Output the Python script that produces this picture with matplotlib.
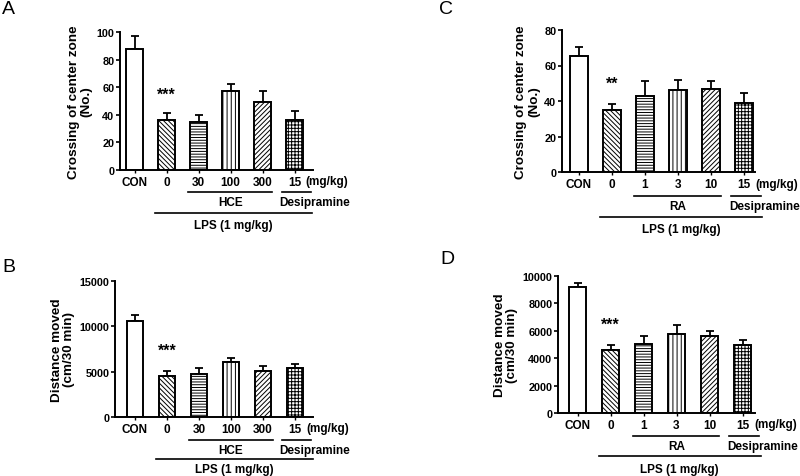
import numpy as np
import matplotlib
matplotlib.use("Agg")
import matplotlib.pyplot as plt
from matplotlib.transforms import blended_transform_factory

plt.rcParams['font.family'] = ['Liberation Sans', 'DejaVu Sans']
plt.rcParams['hatch.linewidth'] = 0.7

# data
labels_hce = ["CON", "0", "30", "100", "300", "15"]
labels_ra = ["CON", "0", "1", "3", "10", "15"]

cross_hce = [88, 36.5, 35, 57.5, 49, 36]
cross_hce_sem = [9, 4.5, 5, 5, 8, 7]
dist_hce = [10550, 4550, 4750, 6050, 5100, 5350]
dist_hce_sem = [650, 500, 600, 500, 480, 480]

cross_ra = [65.5, 35, 43, 46, 46.5, 39]
cross_ra_sem = [5, 3.5, 8.5, 6, 4.5, 5.5]
dist_ra = [9200, 4600, 5050, 5800, 5650, 4950]
dist_ra_sem = [300, 400, 550, 600, 300, 400]

hatches = ["", "\\\\\\\\\\\\\\", "------", "||||", "///////", "+++++"]

W, H = 800, 477
fig = plt.figure(figsize=(8, 4.77), dpi=100)
FS = 8.5


def panel(letter, letter_xy, box, x0, step, vals, sem, xlabels, ymax, ystep,
          ylabel, drug, star, star_y, dys):
    left, right, top, bottom = box
    ax = fig.add_axes([left / W, 1 - bottom / H, (right - left) / W, (bottom - top) / H])
    x = np.arange(len(vals))
    ax.bar(x, vals, width=0.52, color="white", edgecolor="black", linewidth=1.4,
           hatch=hatches, zorder=2)
    ax.errorbar(x, vals, yerr=[np.zeros(len(vals)), sem], fmt="none", ecolor="black",
                elinewidth=1.3, capsize=3.2, capthick=1.3, zorder=1, clip_on=False)
    ax.set_xlim((left - x0) / step, (right - x0) / step)
    ax.set_ylim(0, ymax)
    ax.set_yticks(np.arange(0, ymax + 1, ystep))
    ax.spines['top'].set_visible(False)
    ax.spines['right'].set_visible(False)
    for s in ['left', 'bottom']:
        ax.spines[s].set_linewidth(1.4)
    ax.tick_params(axis='y', length=3, width=1.2, pad=1, labelsize=7.8)
    ax.tick_params(axis='x', length=2, width=1.0, pad=2, labelsize=FS)
    ax.set_xticks(x)
    ax.set_xticklabels(xlabels, fontweight='bold')
    for t in ax.get_yticklabels():
        t.set_fontweight('bold')
    ax.set_ylabel(ylabel, fontsize=9.7, fontweight='bold', linespacing=1.1, labelpad=3)
    ax.text(1, star_y, star, ha='center', va='center', fontsize=11.5, fontweight='bold')

    h = bottom - top
    tr = blended_transform_factory(ax.transData, ax.transAxes)
    d_tick, d_line1, d_txt1, d_line2, d_txt2 = dys
    ax.text(5.35, -d_tick / h, "(mg/kg)", transform=tr, ha='left', va='center',
            fontsize=FS, fontweight='bold')
    ax.plot([1.68, 4.3], [-d_line1 / h] * 2, transform=tr, color='black', lw=1.2, clip_on=False)
    ax.plot([4.6, 5.5], [-d_line1 / h] * 2, transform=tr, color='black', lw=1.2, clip_on=False)
    ax.text(3.0, -d_txt1 / h, drug, transform=tr, ha='center', va='center',
            fontsize=FS, fontweight='bold')
    ax.text(5.62, -d_txt1 / h, "Desipramine", transform=tr, ha='center', va='center',
            fontsize=FS, fontweight='bold')
    ax.plot([0.65, 5.55], [-d_line2 / h] * 2, transform=tr, color='black', lw=1.2, clip_on=False)
    ax.text(3.1, -d_txt2 / h, "LPS (1 mg/kg)", transform=tr, ha='center', va='center',
            fontsize=FS, fontweight='bold')
    fig.text(letter_xy[0] / W, 1 - letter_xy[1] / H, letter, fontsize=14,
             ha='left', va='center')
    return ax


panel("A", (2, 10), (120, 313, 33, 171), 134.5, 32, cross_hce, cross_hce_sem,
      labels_hce, 100, 20, "Crossing of center zone\n(No.)", "HCE", "***", 55,
      (11, 22, 32, 43, 55))
panel("B", (2, 267), (115, 313, 282, 418), 135, 32, dist_hce, dist_hce_sem,
      labels_hce, 15000, 5000, "Distance moved\n(cm/30 min)", "HCE", "***", 7400,
      (11, 23, 33, 42, 52))
panel("C", (439, 10), (562, 755, 31, 173), 579, 33, cross_ra, cross_ra_sem,
      labels_ra, 80, 20, "Crossing of center zone\n(No.)", "RA", "**", 50,
      (12, 24, 34, 45, 57))
panel("D", (440, 259), (558, 755, 277, 414), 577.5, 33, dist_ra, dist_ra_sem,
      labels_ra, 10000, 2000, "Distance moved\n(cm/30 min)", "RA", "***", 6500,
      (11, 23, 33, 43, 56))

fig.savefig("out.png", dpi=100)
